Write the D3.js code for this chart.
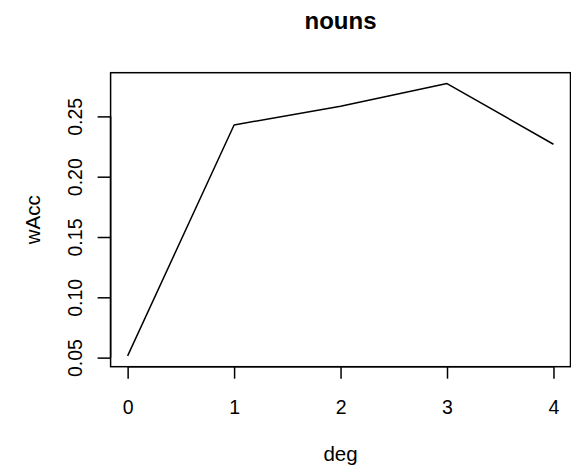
<!DOCTYPE html>
<html>
<head>
<meta charset="utf-8">
<script src="https://cdn.jsdelivr.net/npm/d3@7"></script>
<style>
  html, body { margin: 0; padding: 0; background: #fff; }
  svg { display: block; }
  text { font-family: "Liberation Sans", Arial, Helvetica, sans-serif; fill: #000; }
</style>
</head>
<body>
<script>
// ---- data ----
const degrees = [0, 1, 2, 3, 4];
const wAcc = [0.0515, 0.2429, 0.2584, 0.2772, 0.2269];
const xTicks = [0, 1, 2, 3, 4];
const yTicks = [0.05, 0.10, 0.15, 0.20, 0.25];
const yTickLabels = ["0.05", "0.10", "0.15", "0.20", "0.25"];
const titleText = "nouns";
const xLabel = "deg";
const yLabel = "wAcc";

// ---- layout ----
const W = 571, H = 473;
const plot = { left: 110.6, right: 570.5, top: 72.7, bottom: 366.7 };

const svg = d3.select("body").append("svg")
  .attr("width", W).attr("height", H);

// R-style 4% axis extension
function ext(arr) {
  const [a, b] = d3.extent(arr);
  const p = (b - a) * 0.04;
  return [a - p, b + p];
}

const x = d3.scaleLinear().domain(ext(degrees)).range([plot.left, plot.right]);
const y = d3.scaleLinear().domain(ext(wAcc)).range([plot.bottom, plot.top]);

// line
svg.append("path")
  .datum(degrees.map((d, i) => [d, wAcc[i]]))
  .attr("fill", "none")
  .attr("stroke", "#000")
  .attr("stroke-width", 1.5)
  .attr("stroke-linejoin", "round")
  .attr("d", d3.line().x(d => x(d[0])).y(d => y(d[1])));

// box
svg.append("rect")
  .attr("x", plot.left).attr("y", plot.top)
  .attr("width", plot.right - plot.left).attr("height", plot.bottom - plot.top)
  .attr("fill", "none").attr("stroke", "#000").attr("stroke-width", 1.5);

// x axis
const xAxis = d3.axisBottom(x).tickValues(xTicks).tickSize(12).tickPadding(22)
  .tickFormat(d3.format("d"));
const gx = svg.append("g").attr("transform", `translate(0,${plot.bottom})`).call(xAxis);
gx.select(".domain").attr("d", `M${x(xTicks[0])},0H${x(xTicks[xTicks.length - 1])}`)
  .attr("stroke-width", 1.5);
gx.selectAll(".tick line").attr("stroke-width", 1.5);
gx.selectAll(".tick text").style("font-size", "19.5px")
  .attr("dy", null).attr("y", 47);

// y axis
const yAxis = d3.axisLeft(y).tickValues(yTicks).tickSize(13)
  .tickFormat((d, i) => yTickLabels[i]);
const gy = svg.append("g").attr("transform", `translate(${plot.left},0)`).call(yAxis);
gy.select(".domain").attr("d", `M0,${y(yTicks[0])}V${y(yTicks[yTicks.length - 1])}`)
  .attr("stroke-width", 1.5);
gy.selectAll(".tick line").attr("stroke-width", 1.5);
gy.selectAll(".tick text")
  .style("font-size", "19.5px")
  .attr("x", null).attr("dy", null)
  .attr("text-anchor", "middle")
  .attr("transform", "translate(-28.4,0) rotate(-90)");

// labels
const cx = (plot.left + plot.right) / 2;
svg.append("text").attr("x", cx).attr("y", 29)
  .attr("text-anchor", "middle").style("font-size", "24px").attr("font-weight", "bold")
  .text(titleText);
svg.append("text").attr("x", cx).attr("y", 461)
  .attr("text-anchor", "middle").style("font-size", "20.5px")
  .text(xLabel);
svg.append("text")
  .attr("transform", `translate(40,${(plot.top + plot.bottom) / 2}) rotate(-90)`)
  .attr("text-anchor", "middle").style("font-size", "20.5px")
  .text(yLabel);
</script>
</body>
</html>
